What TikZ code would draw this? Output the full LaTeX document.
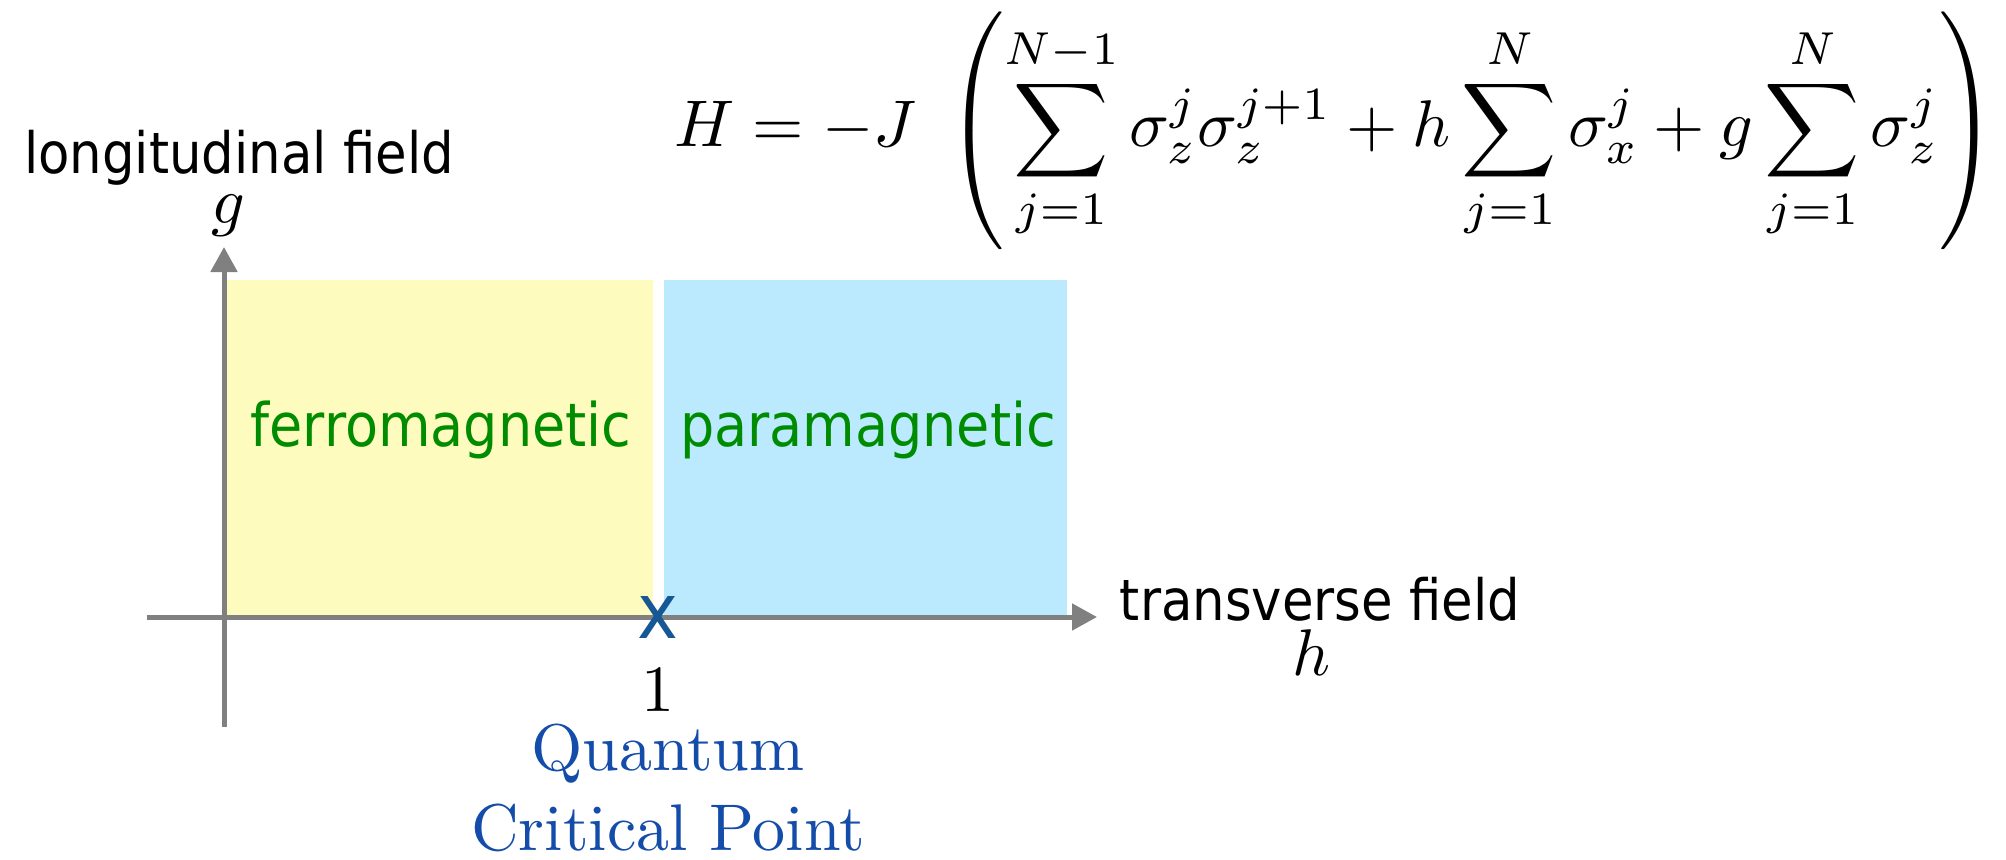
\documentclass[tikz,border=0pt]{standalone}
\usepackage{fontspec}
\newfontfamily\tahoma[FakeStretch=0.9]{DejaVu Sans}
\usetikzlibrary{arrows.meta}

\definecolor{ferroyellow}{RGB}{253,251,190}
\definecolor{paracyan}{RGB}{187,233,254}
\definecolor{axisgray}{RGB}{128,128,128}
\definecolor{phasegreen}{RGB}{0,140,0}
\definecolor{qcpblue}{RGB}{20,76,170}
\definecolor{crossblue}{RGB}{22,88,150}

\begin{document}
\begin{tikzpicture}[x=0.5pt, y=0.5pt,
    axis/.style={line width=2.5pt, axisgray, -{Triangle[width=13pt,length=12.5pt]}},
    sanslabel/.style={scale=2.85, inner sep=0pt, font=\tahoma},
    phase/.style={scale=3.0, inner sep=0pt, font=\tahoma, text=phasegreen},
    mathlabel/.style={scale=3.3, inner sep=0pt}]
    \useasboundingbox (0,0) rectangle (2006,859);

    % Phases
    \fill[ferroyellow] (227,242) rectangle (653,579);
    \fill[paracyan] (664,242) rectangle (1067,579);

    % Axes
    \coordinate (hstart) at (147,242);
    \coordinate (hend) at (1097,242);
    \coordinate (gstart) at (224,132);
    \coordinate (gend) at (224,612);
    \draw[axis] (hstart) -- (hend);
    \draw[axis] (gstart) -- (gend);

    % Axis labels
    \node[sanslabel, anchor=base] (ylab) at (239,686) {longitudinal field};
    \node[mathlabel, anchor=base] (glab) at (228,636) {$g$};
    \node[sanslabel, anchor=base] (xlab) at (1320,239) {transverse field};
    \node[mathlabel, anchor=base] (hlab) at (1311,184) {$h$};

    % Phase names
    \node[phase, anchor=base] (ferro) at (441,413) {ferromagnetic};
    \node[phase, anchor=base] (para) at (868,413) {paramagnetic};

    % Critical point
    \node[inner sep=0pt, font=\tahoma, text=crossblue, scale=3.84] (crit) at (658,242) {x};
    \node[mathlabel, anchor=base] (one) at (658,148) {$1$};
    \node[mathlabel, anchor=north, align=center, text=qcpblue] (qcp) at (668,136) {Quantum\\Critical Point};

    % Hamiltonian
    \node[mathlabel, anchor=base west] (ham) at (673,712)
        {\delimitershortfall=-1pt$\displaystyle H=-J\;\left(\sum_{j=1}^{N-1}\sigma_z^j\sigma_z^{j+1}+h\sum_{j=1}^{N}\sigma_x^j+g\sum_{j=1}^{N}\sigma_z^j\right)$};

\end{tikzpicture}
\end{document}
